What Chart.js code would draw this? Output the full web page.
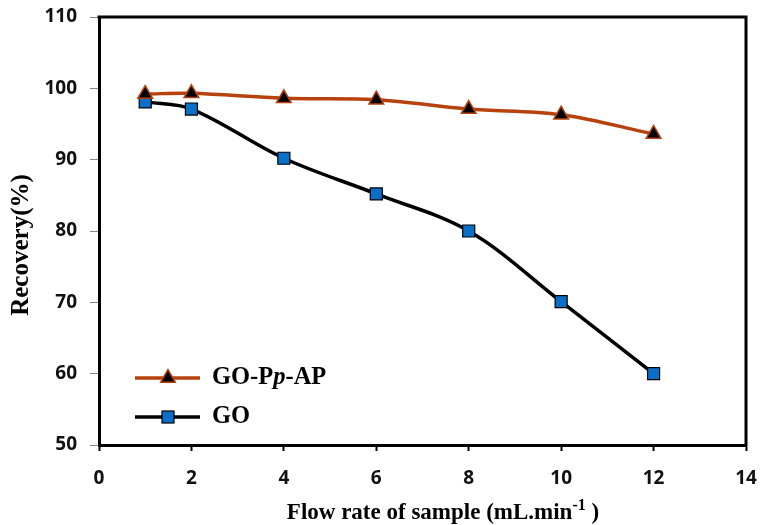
<!DOCTYPE html>
<html lang="en">
<head>
    <meta charset="UTF-8">
    <title>Recovery vs flow rate</title>
    <style>
        html, body { margin: 0; padding: 0; background: #fff; }
        .chart-container { position: relative; width: 773px; height: 525px; }
    </style>
</head>
<body>
<div class="chart-container">
    <canvas id="myChart"></canvas>
</div>
<script src="https://cdn.jsdelivr.net/npm/chart.js"></script>
<script>
const flowRate = [1, 2, 4, 6, 8, 10, 12]
const goPpAp = [99.2, 99.3, 98.6, 98.4, 97.1, 96.3, 93.6]
const go = [98.1, 97.1, 90.2, 85.2, 80.0, 70.1, 60.0]
const xTicks = [0, 2, 4, 6, 8, 10, 12, 14]
const yTicks = [50, 60, 70, 80, 90, 100, 110]

const orange = '#B8420E'
const blue = '#0A6FC9'
const serif = '"Liberation Serif", "Times New Roman", serif'

function toPoints(xs, ys){
    return xs.map((x, i) => ({x: x, y: ys[i]}))
}

// box on top/right, axis titles and legend drawn by hand
const frameAndLegend = {
    id: 'frameAndLegend',
    afterDraw(chart){
        const {ctx, chartArea: {top, right, bottom, left}} = chart
        ctx.save()
        ctx.strokeStyle = '#000'
        ctx.lineWidth = 3
        ctx.beginPath()
        ctx.moveTo(left - 1.5, top)
        ctx.lineTo(right, top)
        ctx.lineTo(right, bottom + 1.5)
        ctx.stroke()

        const items = [
            {y: 378, color: orange, lw: 3.5, marker: 'tri'},
            {y: 417, color: '#000', lw: 3.5, marker: 'sq'}
        ]
        items.forEach(it => {
            ctx.strokeStyle = it.color
            ctx.lineWidth = it.lw
            ctx.beginPath()
            ctx.moveTo(135, it.y)
            ctx.lineTo(200, it.y)
            ctx.stroke()
            if(it.marker == 'tri'){
                const r = 8.5
                ctx.beginPath()
                ctx.moveTo(168, it.y - r)
                ctx.lineTo(168 + r * 0.866, it.y + r * 0.5)
                ctx.lineTo(168 - r * 0.866, it.y + r * 0.5)
                ctx.closePath()
                ctx.fillStyle = '#000'
                ctx.fill()
                ctx.strokeStyle = orange
                ctx.lineWidth = 1.5
                ctx.stroke()
            } else {
                ctx.fillStyle = blue
                ctx.fillRect(162, it.y - 6, 12, 12)
                ctx.strokeStyle = '#000'
                ctx.lineWidth = 1.2
                ctx.strokeRect(162, it.y - 6, 12, 12)
            }
        })

        ctx.fillStyle = '#000'
        ctx.textBaseline = 'middle'
        ctx.textAlign = 'left'
        let x = 212
        const parts = [['bold', 'GO-P'], ['italic bold', 'p'], ['bold', '-AP']]
        parts.forEach(p => {
            ctx.font = p[0] + ' 24.5px ' + serif
            ctx.fillText(p[1], x, 378)
            x += ctx.measureText(p[1]).width
        })
        ctx.font = 'bold 24.5px ' + serif
        ctx.fillText('GO', 212, 417)

        // x title with superscript
        ctx.textBaseline = 'alphabetic'
        const xParts = [
            {t: 'Flow rate of sample (mL.min', size: 23, dy: 0},
            {t: '-1', size: 16, dy: -9},
            {t: ' )', size: 23, dy: 0}
        ]
        let w = 0
        xParts.forEach(p => { ctx.font = 'bold ' + p.size + 'px ' + serif; p.w = ctx.measureText(p.t).width; w += p.w })
        x = 443 - w / 2
        xParts.forEach(p => {
            ctx.font = 'bold ' + p.size + 'px ' + serif
            ctx.fillText(p.t, x, 519 + p.dy)
            x += p.w
        })

        // y title
        ctx.translate(22, 245)
        ctx.rotate(-Math.PI / 2)
        ctx.textAlign = 'center'
        ctx.textBaseline = 'middle'
        ctx.font = 'bold 25px ' + serif
        ctx.fillText('Recovery(%)', 0, 0)
        ctx.restore()
    }
}

const tickFont = { family: '"Open Sans", "Liberation Sans", Arial, sans-serif', size: 19, weight: 'bold' }

const ctx = document.getElementById('myChart')
const myChart = new Chart(ctx, {
    type: 'line',
    data: {
        datasets: [
            {
                label: 'GO-Pp-AP',
                data: toPoints(flowRate, goPpAp),
                borderColor: orange,
                borderWidth: 3.5,
                tension: 0.35,
                pointStyle: 'triangle',
                pointRadius: 8.5,
                pointBackgroundColor: '#000',
                pointBorderColor: orange,
                pointBorderWidth: 1.5
            },
            {
                label: 'GO',
                data: toPoints(flowRate, go),
                borderColor: '#000',
                borderWidth: 3.5,
                tension: 0.35,
                pointStyle: 'rect',
                pointRadius: 8.5,
                pointBackgroundColor: blue,
                pointBorderColor: '#000',
                pointBorderWidth: 1.2
            }
        ]
    },
    options: {
        responsive: true,
        maintainAspectRatio: false,
        animation: false,
        layout: { padding: { top: 17, right: 27, left: 0, bottom: 0 } },
        plugins: {
            legend: { display: false },
            tooltip: { enabled: false }
        },
        scales: {
            x: {
                type: 'linear',
                min: 0,
                max: 14,
                afterBuildTicks: axis => { axis.ticks = xTicks.map(v => ({value: v})) },
                afterFit: axis => {
                    axis.height = 80
                    axis.paddingLeft = 0
                    axis.paddingRight = 0
                },
                grid: { drawOnChartArea: false, tickLength: 6, tickColor: '#000', tickWidth: 2 },
                border: { display: true, color: '#000', width: 3 },
                ticks: { color: '#111', padding: 16, font: tickFont }
            },
            y: {
                min: 50,
                max: 110,
                afterBuildTicks: axis => { axis.ticks = yTicks.map(v => ({value: v})) },
                afterFit: axis => {
                    axis.width = 99
                    axis.paddingTop = 0
                    axis.paddingBottom = 0
                },
                grid: { drawOnChartArea: false, tickLength: 9, tickColor: '#888', tickWidth: 1 },
                border: { display: true, color: '#000', width: 3 },
                ticks: { color: '#111', padding: 13, font: tickFont }
            }
        }
    },
    plugins: [frameAndLegend]
})
</script>
</body>
</html>
